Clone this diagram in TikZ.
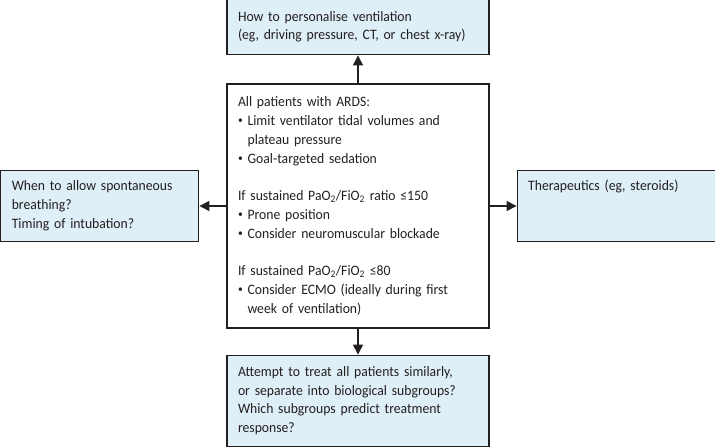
\documentclass[tikz,border=0pt]{standalone}
\usepackage{fontspec}
\setmainfont{Carlito}[FakeStretch=0.95]
\usetikzlibrary{positioning, arrows.meta}
\definecolor{boxblue}{RGB}{222,239,247}
\definecolor{edge}{RGB}{35,31,32}
\tikzset{
  box/.style={draw=edge, line width=1.2pt, align=left, inner xsep=11pt, inner ysep=8pt, text=edge,
    font=\fontsize{14.4}{18.8}\selectfont},
  question/.style={box, fill=boxblue},
  link/.style={draw=edge, line width=1.1pt, -{Triangle[length=10pt, width=10pt]}}
}
\newcommand{\bul}{\raisebox{0.12em}{\scalebox{0.7}{\textbullet}}\ }
\newcommand{\bulgap}{\phantom{\bul}}

\begin{document}
\begin{tikzpicture}[x=1pt, y=-1pt, node distance=27pt]
\useasboundingbox (0,0) rectangle (715,447);
\node[box, text width=240pt, minimum height=244pt](care) at (358,206){All patients with ARDS:\\
\bul Limit ventilator tidal volumes and\\
\bulgap plateau pressure\\
\bul Goal-targeted sedation\\[18.8pt]
If sustained PaO\textsubscript{2}/FiO\textsubscript{2} ratio ≤150\\
\bul Prone position\\
\bul Consider neuromuscular blockade\\[18.8pt]
If sustained PaO\textsubscript{2}/FiO\textsubscript{2} ≤80\\
\bul Consider ECMO (ideally during first\\
\bulgap week of ventilation)};
\node[question, text width=240pt, minimum height=56pt, above=28pt of care](personalise){How to personalise ventilation\\(eg, driving pressure, CT, or chest x-ray)};
\node[question, text width=240pt, minimum height=91pt, below=26pt of care](subgroups){Attempt to treat all patients similarly,\\or separate into biological subgroups?\\Which subgroups predict treatment\\response?};
\node[question, text width=176pt, minimum height=71pt, left=of care](breathing){When to allow spontaneous\\breathing?\\Timing of intubation?};
\node[question, text width=176pt, text height=12pt, text depth=43pt, right=of care](therapy){Therapeutics (eg, steroids)};

\draw[link] (care) -- (personalise);
\draw[link] (care) -- (subgroups);
\draw[link] (care) -- (breathing);
\draw[link] (care) -- (therapy);
\end{tikzpicture}
\end{document}
